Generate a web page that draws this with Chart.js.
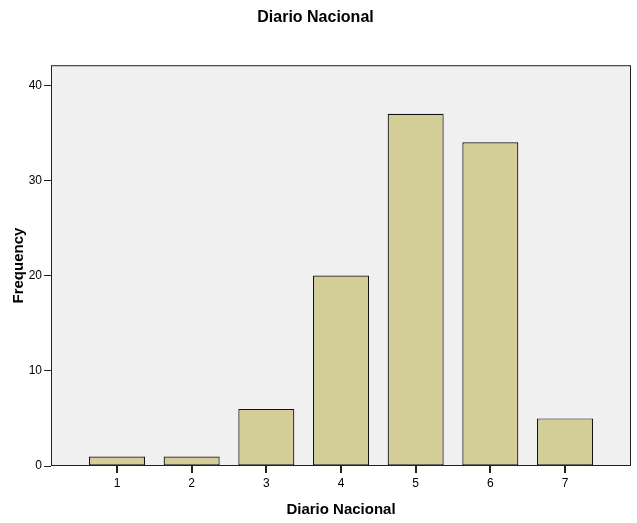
<!DOCTYPE html>
<html>
<head>
<meta charset="utf-8">
<script src="https://cdn.jsdelivr.net/npm/chart.js@4.4.1/dist/chart.umd.min.js"></script>
<style>
  html, body { margin: 0; padding: 0; background: #fff; }
  #wrap { width: 637px; height: 523px; }
</style>
</head>
<body>
<div id="wrap"><canvas id="chart" width="637" height="523"></canvas></div>
<script>
// values
const categories = [1, 2, 3, 4, 5, 6, 7];
const frequencies = [1, 1, 6, 20, 37, 34, 5];
const yTicks = [0, 10, 20, 30, 40];

const font = 'Arial, "Liberation Sans", sans-serif';

// grey plot background, frame and the little x tick marks
const plotFrame = {
    id: 'plotFrame',
    beforeDatasetsDraw(chart) {
        const a = chart.chartArea, ctx = chart.ctx;
        ctx.save();
        ctx.fillStyle = '#f0f0f0';
        ctx.fillRect(a.left, a.top, a.right - a.left, a.bottom - a.top);
        ctx.restore();
    },
    afterDatasetsDraw(chart) {
        const a = chart.chartArea, ctx = chart.ctx;
        const xs = chart.scales.x;
        ctx.save();
        ctx.strokeStyle = '#222';
        ctx.lineWidth = 1;
        ctx.strokeRect(a.left + 0.5, a.top + 0.5, a.right - a.left - 1, a.bottom - a.top - 1);
        ctx.lineWidth = 2;
        ctx.beginPath();
        categories.forEach(c => {
            const px = Math.round(xs.getPixelForValue(c));
            ctx.moveTo(px, a.bottom);
            ctx.lineTo(px, a.bottom + 7);
        });
        ctx.stroke();
        ctx.restore();
    }
};

const ctx = document.getElementById('chart').getContext('2d');
new Chart(ctx, {
    type: 'bar',
    data: {
        datasets: [{
            data: categories.map((c, i) => ({ x: c, y: frequencies[i] })),
            backgroundColor: '#d3ce98',
            borderColor: '#111',
            borderWidth: 1.2,
            borderSkipped: false,
            barPercentage: 0.75,
            categoryPercentage: 1
        }]
    },
    options: {
        responsive: false,
        animation: false,
        layout: { padding: { left: 0, right: 6, top: 0, bottom: 0 } },
        plugins: {
            legend: { display: false },
            tooltip: { enabled: false },
            title: {
                display: true,
                text: 'Diario Nacional',
                color: '#000',
                font: { family: font, size: 16, weight: 'bold' },
                padding: { top: 8, bottom: 38 }
            }
        },
        scales: {
            x: {
                type: 'linear',
                min: 0.116,
                max: 7.884,
                offset: false,
                afterBuildTicks: s => { s.ticks = categories.map(v => ({ value: v })); },
                afterFit: s => { s.height = 57; },
                grid: { display: false },
                border: { display: false },
                ticks: { color: '#000', padding: 2, font: { family: font, size: 12 } },
                title: {
                    display: true,
                    text: 'Diario Nacional',
                    color: '#000',
                    font: { family: font, size: 15, weight: 'bold' },
                    padding: { top: 0, bottom: 4 }
                }
            },
            y: {
                min: 0,
                max: 42.1,
                afterBuildTicks: s => { s.ticks = yTicks.map(v => ({ value: v })); },
                afterFit: s => { s.width = 51; },
                grid: { display: true, drawOnChartArea: false, drawTicks: true, tickLength: 7, color: '#222' },
                border: { display: false },
                ticks: { color: '#000', padding: 2, font: { family: font, size: 12 } },
                title: {
                    display: true,
                    text: 'Frequency',
                    color: '#000',
                    font: { family: font, size: 15, weight: 'bold' },
                    padding: { top: 10, bottom: 0 }
                }
            }
        }
    },
    plugins: [plotFrame]
});
</script>
</body>
</html>
